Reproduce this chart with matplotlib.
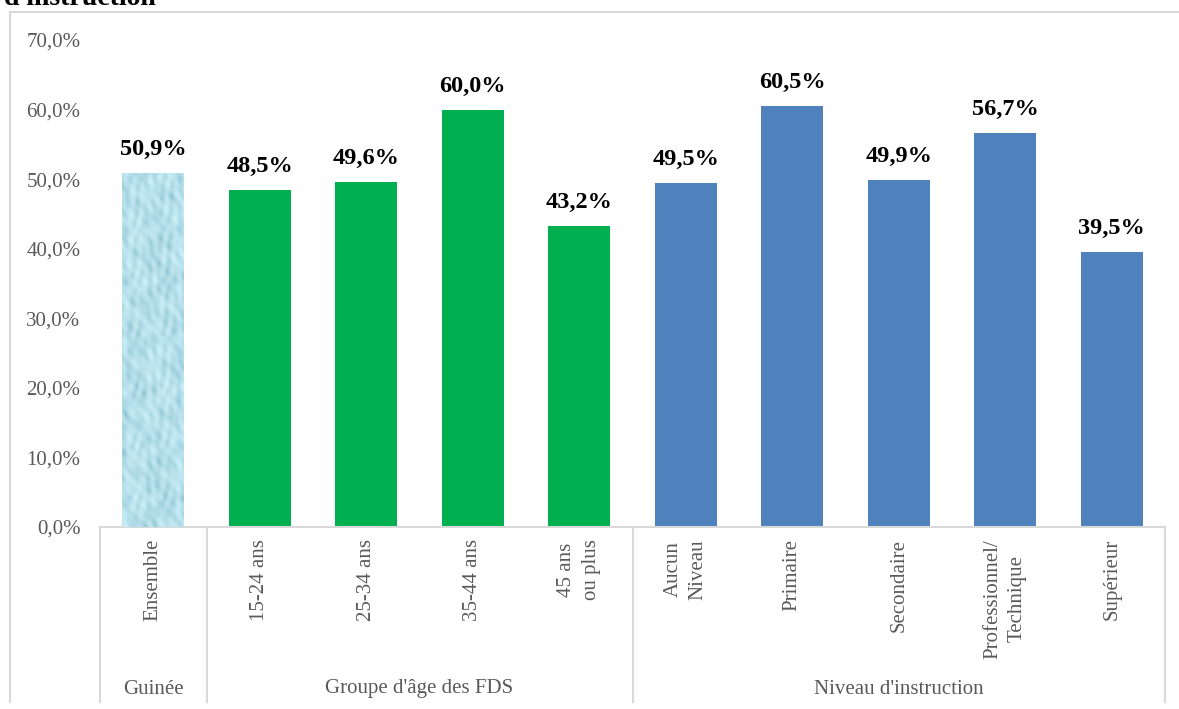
import numpy as np
import matplotlib
matplotlib.use("Agg")
import matplotlib.pyplot as plt
import matplotlib.transforms as mtransforms
from matplotlib.lines import Line2D

# ---- data ----
categories = ["Ensemble", "15-24 ans", "25-34 ans", "35-44 ans", "45 ans\nou plus",
              "Aucun\nNiveau", "Primaire", "Secondaire", "Professionnel/\nTechnique", "Supérieur"]
values = [50.9, 48.5, 49.6, 60.0, 43.2, 49.5, 60.5, 49.9, 56.7, 39.5]
groups = ["Guinée", "Groupe d'âge des FDS", "Niveau d'instruction"]
group_sizes = [1, 4, 5]
yticks = [0, 10, 20, 30, 40, 50, 60, 70]
title_tail = "d'instruction"

green = "#00B050"
blue = "#4F81BD"
gray_text = "#595959"
line_gray = "#D9D9D9"
bar_colors = ["#B5E3EA"] + [green] * 4 + [blue] * 5

plt.rcParams['font.family'] = ['Liberation Serif', 'DejaVu Serif']

W, H = 1179, 709
fig = plt.figure(figsize=(W / 100, H / 100), dpi=100)
ax = fig.add_axes([100 / W, (H - 527) / H, 1065 / W, 487 / H])

x = np.arange(len(categories))
bars = ax.bar(x, values, width=0.58, color=bar_colors, zorder=2)

# water-like texture for the first bar (purely decorative)
b0 = bars[0]
gx, gy = np.meshgrid(np.linspace(0, 1, 80), np.linspace(0, 8, 640))
pat = (np.sin(gx * 21 + 1.3 * np.sin(gy * 5.1)) * np.sin(gy * 6.3 + 1.7 * np.sin(gx * 13))
       + 0.6 * np.sin(gx * 37 + gy * 9.7) * np.cos(gy * 11.3 - gx * 7))
pat = (pat - pat.min()) / (pat.max() - pat.min())
pat = pat ** 0.6
c1 = np.array([0.55, 0.76, 0.82])
c2 = np.array([0.80, 0.94, 0.97])
img = c1[None, None, :] * (1 - pat[..., None]) + c2[None, None, :] * pat[..., None]
bx, bw, bh = b0.get_x(), b0.get_width(), b0.get_height()
im = ax.imshow(img, extent=[bx, bx + bw, 0, bh], aspect='auto', zorder=3, origin='lower',
               interpolation='bilinear')
im.set_clip_path(b0)

ax.set_xlim(-0.5, len(categories) - 0.5)
ax.set_ylim(0, 70)
ax.set_yticks(yticks)
ax.set_yticklabels([f"{v:.1f}".replace(".", ",") + "%" for v in yticks],
                   fontsize=15, color=gray_text)
ax.tick_params(axis='y', length=0, pad=14)
ax.set_xticks([])
for s in ["top", "right", "left"]:
    ax.spines[s].set_visible(False)
ax.spines["bottom"].set_color(line_gray)
ax.spines["bottom"].set_linewidth(1.5)

# value labels
for xi, v in zip(x, values):
    ax.annotate(f"{v:.1f}".replace(".", ",") + "%", (xi, v), xytext=(0, 13),
                textcoords="offset points", ha="center", va="baseline",
                fontsize=17.5, fontweight="bold", color="black")

# category labels (rotated)
trans = mtransforms.blended_transform_factory(ax.transData, ax.transAxes)
off = mtransforms.ScaledTranslation(0, -12 / 100, fig.dpi_scale_trans)
for xi, lab in zip(x, categories):
    ax.text(xi, 0, lab, transform=trans + off, rotation=90, ha="center", va="top",
            multialignment="center", fontsize=15, color=gray_text, linespacing=1.4)

# group dividers and labels
y_bottom = -(702 - 527) / 487
edges = np.concatenate([[0], np.cumsum(group_sizes)]) - 0.5
for e in edges:
    ax.add_line(Line2D([e, e], [0, y_bottom], transform=trans, color=line_gray,
                       linewidth=1.5, clip_on=False))
y_group = -(689 - 527) / 487
for i, g in enumerate(groups):
    ax.text((edges[i] + edges[i + 1]) / 2, y_group, g, transform=trans, ha="center",
            va="center", fontsize=15, color=gray_text)

# outer frame (partially visible)
fig.add_artist(Line2D([10 / W, 1], [1 - 12 / H, 1 - 12 / H], transform=fig.transFigure,
                      color=line_gray, linewidth=1.5))
fig.add_artist(Line2D([10 / W, 10 / W], [1 - 12 / H, 1 - 702 / H], transform=fig.transFigure,
                      color=line_gray, linewidth=1.5))

# cut-off title (the reference shows only its lower part)
fig.text(4 / W, 1 - 5 / H, title_tail, ha="left", va="baseline", fontsize=20,
         fontweight="bold", color="black")

fig.savefig("out.png", dpi=100)
